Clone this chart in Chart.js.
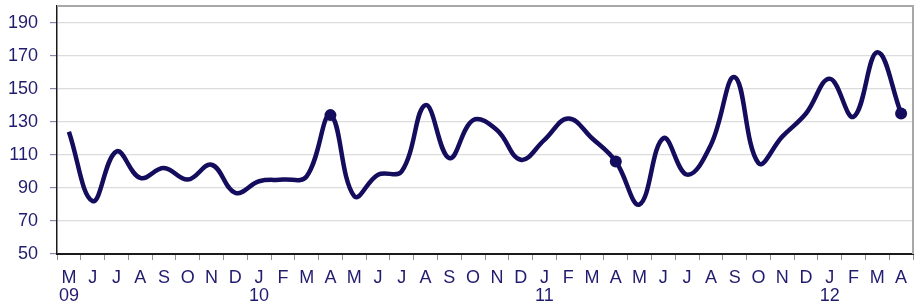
<!DOCTYPE html>
<html>
<head>
<meta charset="utf-8">
<script src="https://cdn.jsdelivr.net/npm/chart.js@4/dist/chart.umd.min.js"></script>
<style>
  html, body { margin: 0; padding: 0; background: #fff; }
  #wrap { width: 919px; height: 308px; position: relative; }
</style>
</head>
<body>
<div id="wrap"><canvas id="chartLine"></canvas></div>
<script>
// months May 2009 .. April 2012
const monthLetters = ['M', 'J', 'J', 'A', 'S', 'O', 'N', 'D', 'J', 'F', 'M', 'A',
    'M', 'J', 'J', 'A', 'S', 'O', 'N', 'D', 'J', 'F', 'M', 'A',
    'M', 'J', 'J', 'A', 'S', 'O', 'N', 'D', 'J', 'F', 'M', 'A'];
const yearLabels = ['09', '', '', '', '', '', '', '', '10', '', '', '',
    '', '', '', '', '', '', '', '', '11', '', '', '',
    '', '', '', '', '', '', '', '', '12', '', '', ''];
const values = [124, 82, 112, 96, 102, 95, 104, 87, 94, 95, 97, 134,
    85, 98, 100, 140, 108, 131, 125, 107, 119, 132, 120, 106,
    80, 120, 98, 116, 157, 105, 121, 135, 156, 133, 172, 135];
const markerMonths = [11, 23, 35];
const yTicks = [50, 70, 90, 110, 130, 150, 170, 190];

const navy = '#140c5c';
const textNavy = '#221c6e';

const labels = monthLetters.map((m, i) => yearLabels[i] ? [m, yearLabels[i]] : m);
const radii = values.map((v, i) => markerMonths.includes(i) ? 6 : 0);

// gray frame on top and right
const framePlugin = {
    id: 'frame',
    afterDraw(chart) {
        const { ctx, chartArea } = chart;
        ctx.save();
        ctx.strokeStyle = '#a8a8a8';
        ctx.lineWidth = 2;
        ctx.beginPath();
        ctx.moveTo(chartArea.left, chartArea.top);
        ctx.lineTo(chartArea.right, chartArea.top);
        ctx.lineTo(chartArea.right, chartArea.bottom);
        ctx.stroke();
        ctx.restore();
    }
};

const configLine = {
    type: 'line',
    data: {
        labels: labels,
        datasets: [{
            data: values,
            borderColor: navy,
            backgroundColor: navy,
            borderWidth: 4.5,
            tension: 0.4,
            pointRadius: radii,
            pointHoverRadius: radii,
            pointBackgroundColor: navy,
            pointBorderWidth: 0
        }]
    },
    options: {
        responsive: true,
        maintainAspectRatio: false,
        animation: false,
        layout: { padding: { top: 4, right: 6, left: 0, bottom: 0 } },
        plugins: {
            legend: { display: false },
            tooltip: { enabled: false }
        },
        scales: {
            x: {
                offset: true,
                grid: {
                    offset: true,
                    drawOnChartArea: false,
                    tickLength: 6,
                    tickColor: '#909090'
                },
                border: { color: '#1a1a1a', width: 2 },
                ticks: {
                    color: textNavy,
                    font: { family: 'Liberation Sans', size: 18, lineHeight: 1.0 },
                    padding: 9,
                    maxRotation: 0,
                    autoSkip: false
                },
                afterFit(scale) {
                    scale.height = 54;
                    scale.paddingLeft = 0;
                    scale.paddingRight = 0;
                }
            },
            y: {
                min: 50,
                max: 200,
                afterBuildTicks(scale) {
                    scale.ticks = yTicks.map(v => ({ value: v }));
                },
                grid: {
                    color: '#dcdcdc',
                    lineWidth: 1.2,
                    tickLength: 7,
                    tickColor: '#8a88b0'
                },
                border: { color: '#1a1a1a', width: 1.5 },
                ticks: {
                    color: textNavy,
                    font: { family: 'Liberation Sans', size: 18 },
                    padding: 12
                },
                afterFit(scale) {
                    scale.width = 57;
                    scale.paddingTop = 0;
                    scale.paddingBottom = 0;
                }
            }
        }
    },
    plugins: [framePlugin]
};

const chartLine = new Chart(document.getElementById('chartLine'), configLine);
</script>
</body>
</html>
